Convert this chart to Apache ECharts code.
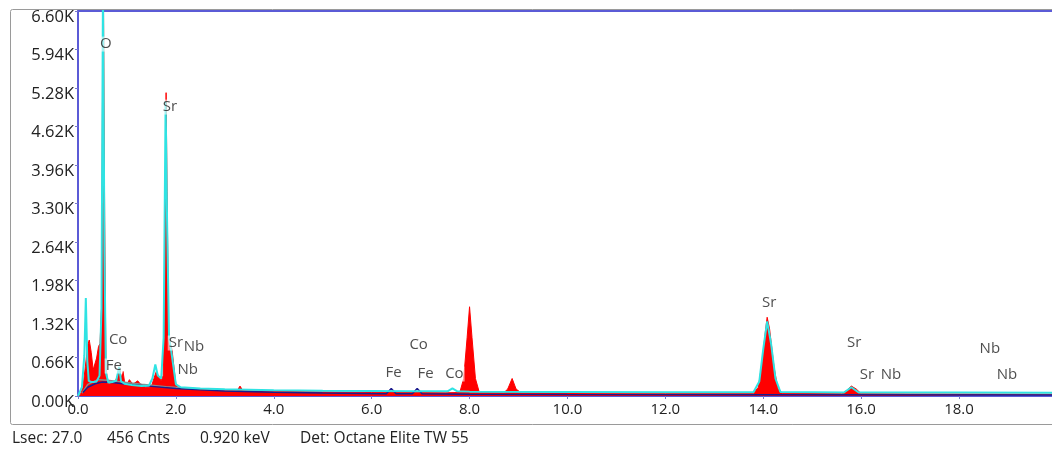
<!DOCTYPE html>
<html>
<head>
<meta charset="utf-8">
<script src="https://cdn.jsdelivr.net/npm/echarts@6/dist/echarts.min.js"></script>
<style>
html,body{margin:0;padding:0;background:#fff;}
#chart{width:1052px;height:456px;}
</style>
</head>
<body>
<div id="chart"></div>
<script>
// ---- data (energy keV, counts) ----
const xTicks = [0, 2, 4, 6, 8, 10, 12, 14, 16, 18];
const yTicks = [0, 660, 1320, 1980, 2640, 3300, 3960, 4620, 5280, 5940, 6600];

const redSpectrum = [
  [0.00,0],[0.05,30],[0.10,150],[0.15,500],[0.20,880],[0.23,960],[0.27,750],[0.31,450],[0.34,420],
  [0.38,650],[0.42,850],[0.45,900],[0.48,1500],[0.50,5000],[0.52,6900],[0.545,3000],[0.57,600],
  [0.60,220],[0.65,210],[0.70,240],[0.75,230],[0.80,330],[0.85,480],[0.88,300],[0.92,420],[0.95,250],
  [1.00,200],[1.05,280],[1.12,200],[1.22,260],[1.30,180],[1.38,150],[1.45,150],[1.50,160],[1.55,300],
  [1.60,420],[1.65,330],[1.70,260],[1.74,350],[1.77,1800],[1.80,5200],[1.82,3500],[1.85,1100],
  [1.88,900],[1.92,800],[1.96,500],[2.00,200],[2.05,130],[2.20,120],[2.50,110],[3.00,90],[3.25,90],
  [3.31,170],[3.37,90],[4.00,80],[5.00,70],[6.00,60],[6.40,80],[7.00,60],[7.50,55],[7.80,60],
  [7.88,300],[7.95,1000],[8.00,1530],[8.05,1000],[8.12,300],[8.20,60],[8.70,55],[8.78,120],[8.87,300],
  [8.95,120],[9.05,55],[10.0,50],[12.0,45],[13.80,45],[13.90,150],[13.98,600],[14.05,1150],[14.08,1350],
  [14.13,1150],[14.22,500],[14.30,120],[14.40,45],[15.60,40],[15.70,90],[15.80,170],[15.90,120],
  [16.00,40],[17.0,35],[20.0,30]
];

const cyanFit = [
  [0.00,0],[0.08,150],[0.13,700],[0.16,1680],[0.19,600],[0.22,260],[0.27,240],[0.32,240],[0.38,250],
  [0.44,350],[0.48,1500],[0.51,7000],[0.54,2500],[0.57,400],[0.62,230],[0.70,240],[0.78,260],[0.84,500],
  [0.88,250],[0.95,210],[1.10,190],[1.30,170],[1.45,180],[1.52,300],[1.58,540],[1.63,350],[1.70,300],
  [1.75,1000],[1.79,5050],[1.82,3000],[1.86,1000],[1.90,800],[1.95,500],[2.00,200],[2.10,150],[2.50,130],
  [3.00,115],[4.00,100],[5.00,90],[6.00,85],[6.80,80],[7.55,80],[7.65,130],[7.75,80],[8.00,75],[10.0,70],
  [12.0,65],[13.80,65],[13.92,250],[14.00,800],[14.08,1280],[14.16,900],[14.25,300],[14.35,70],[15.65,60],
  [15.80,150],[15.95,60],[18.0,60],[20.0,55]
];

const blueBackground = [
  [0.10,60],[0.20,150],[0.35,210],[0.50,240],[0.70,230],[1.00,200],[1.50,165],[2.00,130],[2.50,105],
  [3.00,85],[4.00,65],[5.00,50],[6.20,40],[6.30,40],[6.40,130],[6.50,40],[6.83,38],[6.93,130],[7.03,38],
  [8.00,32],[10.0,25],[14.0,20],[20.0,15]
];

const greyBackground = [
  [0.08,50],[0.20,200],[0.41,280],[0.60,270],[0.90,240],[1.30,200],[1.80,160],[2.50,120]
];

const peakLabelText = ['O','Sr','Co','Fe','Sr','Nb','Nb','Fe','Co','Fe','Co','Sr','Sr','Sr','Nb','Nb','Nb'];
const peakLabelPos = [
  [0.57,6033],[1.88,4953],[0.82,960],[0.73,514],[2.00,908],[2.37,840],[2.24,446],[6.45,394],[6.96,874],
  [7.10,377],[7.69,377],[14.12,1594],[15.86,908],[16.12,360],[16.61,360],[18.63,806],[18.98,360]
];

const footerTexts = ['Lsec: 27.0', '456 Cnts', '0.920 keV', 'Det: Octane Elite TW 55'];
const footerX = [12, 107, 200, 300];

// ---- chart ----
const chart = echarts.init(document.getElementById('chart'), null, {renderer:'canvas'});
const FONT = '"Open Sans", "Noto Sans", sans-serif';
const AXIS_COLOR = '#5b5bd6';
const labelData = peakLabelPos.map((p, i) => ({value: p, name: peakLabelText[i]}));

chart.setOption({
  animation: false,
  backgroundColor: '#fff',
  graphic: [
    {type:'rect', left:8, top:7, shape:{x:0, y:0, width:1060, height:415, r:2},
     style:{fill:'none', stroke:'#9a9a9a', lineWidth:1}, z:-1, silent:true}
  ].concat(footerTexts.map((t, i) => ({
    type:'text', left: footerX[i], top: 431,
    style:{text: t, fill:'#222', font: '15.5px ' + FONT}
  }))),
  grid: {left:78, top:11, right:0, height:385, show:false},
  xAxis: [{
    type:'value', min:0, max:19.9, interval:2,
    axisLine:{show:true, lineStyle:{color:AXIS_COLOR, width:2}},
    axisTick:{show:true, length:3, lineStyle:{color:'#7777cc'}},
    splitLine:{show:false},
    axisLabel:{color:'#222', fontSize:15, fontFamily:FONT, margin:6, showMaxLabel:false,
      formatter: v => (xTicks.indexOf(v) >= 0 ? v.toFixed(1) : '')}
  }, {
    type:'value', position:'top', min:0, max:19.9,
    axisLine:{show:true, lineStyle:{color:AXIS_COLOR, width:2}},
    axisTick:{show:false}, axisLabel:{show:false}, splitLine:{show:false}
  }],
  yAxis: {
    type:'value', min:0, max:6600, interval:660,
    axisLine:{show:true, lineStyle:{color:AXIS_COLOR, width:2}},
    axisTick:{show:true, length:3, lineStyle:{color:'#7777cc'}},
    splitLine:{show:false},
    axisLabel:{color:'#222', fontSize:16.5, fontFamily:FONT, margin:4, verticalAlign:'top',
      lineHeight:12,
      formatter: v => (yTicks.indexOf(v) >= 0 ? (v/1000).toFixed(2) + 'K' : '')}
  },
  series: [
    {type:'line', data: redSpectrum, symbol:'none', clip:true, z:2,
     lineStyle:{color:'#ff0000', width:1}, areaStyle:{color:'#ff0000', opacity:1}},
    {type:'line', data: greyBackground, symbol:'none', clip:true, z:3,
     lineStyle:{color:'#8a8a8a', width:1.5}},
    {type:'line', data: blueBackground, symbol:'none', clip:true, z:4,
     lineStyle:{color:'#1c1c8e', width:1.5}},
    {type:'line', data: cyanFit, symbol:'none', clip:true, z:5,
     lineStyle:{color:'#2fe3e3', width:2}},
    {type:'scatter', data: labelData, symbolSize:0, z:10, silent:true,
     label:{show:true, position:'inside', formatter: p => p.name, color:'#222', fontSize:15,
       fontFamily:FONT, backgroundColor:'rgba(255,255,255,0.7)', padding:[0,1]}}
  ]
});
</script>
</body>
</html>
